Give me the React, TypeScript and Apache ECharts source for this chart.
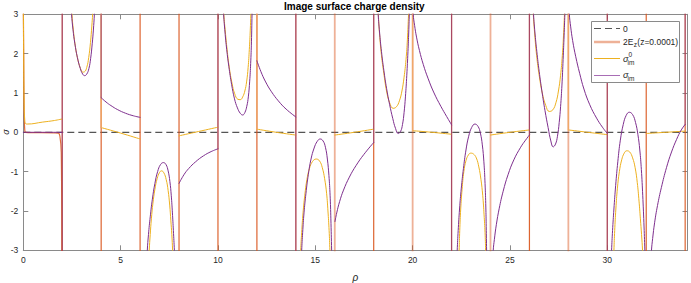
import React, { useEffect, useRef } from "react";
import * as echarts from "echarts";

type Pt = [number, number];
type VLine = [number, number, number];

const FONT = "'Liberation Sans', Arial, Helvetica, sans-serif";
const TITLE = "Image surface charge density";
const X_LABEL = "ρ";
const Y_LABEL = "σ";
const X_MIN = 0;
const X_MAX = 34.12;
const Y_MIN = -3;
const Y_MAX = 3;
const X_TICK_STEP = 5;
const Y_TICK_STEP = 1;

const C_EZ = "#D95319";
const C_S0 = "#EDB120";
const C_S = "#7E2F8E";

// dashed reference "0"
const zeroLine: Pt[] = [[0, 0], [X_MAX, 0]];

// 2E_z (z=0.0001)
const ezPieces: Pt[][] = [
  [[0.0, 3.3], [0.02, 2.0], [0.04, 0.6], [0.07, 0.1], [0.12, 0.0], [1.8, -0.02], [1.88, -0.1], [1.95, -0.5], [1.98, -3.3]],
];
const ezVerticals: number[] = [2, 4, 6, 8, 10, 12, 14, 16, 18, 20, 22, 24, 26, 28, 30, 32, 34];
const ezPaleVerticals: number[] = [16, 20, 24, 28];

// sigma^0_im
const sigma0Pieces: Pt[][] = [
  [[0.0, 3.3], [0.02, 2.0], [0.04, 0.8], [0.07, 0.35], [0.12, 0.22], [0.2, 0.21], [1.0, 0.26], [1.6, 0.3], [2.0, 0.34]],
  [[2.48, 3.3], [2.5, 3.0], [2.57, 2.6], [2.67, 2.2], [2.8, 1.85], [2.94, 1.62], [3.05, 1.53], [3.15, 1.54], [3.26, 1.65], [3.36, 1.9], [3.45, 2.28], [3.52, 2.7], [3.56, 3.0], [3.58, 3.3]],
  [[4.0, 0.12], [5.0, -0.02], [6.0, -0.17]],
  [[6.45, -3.3], [6.47, -3.0], [6.52, -2.6], [6.58, -2.2], [6.66, -1.8], [6.76, -1.45], [6.88, -1.17], [7.0, -1.02], [7.1, -0.98], [7.22, -1.03], [7.34, -1.2], [7.44, -1.48], [7.52, -1.85], [7.58, -2.25], [7.63, -2.6], [7.67, -3.0], [7.69, -3.3]],
  [[8.0, -0.09], [9.0, 0.02], [10.0, 0.13]],
  [[10.28, 3.3], [10.3, 3.0], [10.38, 2.55], [10.47, 2.1], [10.58, 1.65], [10.72, 1.25], [10.86, 0.98], [11.02, 0.84], [11.15, 0.83], [11.27, 0.9], [11.38, 1.05], [11.47, 1.28], [11.55, 1.65], [11.61, 2.1], [11.66, 2.6], [11.69, 3.0], [11.71, 3.3]],
  [[12.0, 0.08], [13.0, 0.0], [14.0, -0.07]],
  [[14.23, -3.3], [14.25, -3.0], [14.3, -2.55], [14.37, -2.05], [14.46, -1.6], [14.57, -1.2], [14.7, -0.92], [14.86, -0.74], [15.05, -0.68], [15.22, -0.73], [15.36, -0.9], [15.48, -1.18], [15.58, -1.55], [15.65, -2.0], [15.71, -2.5], [15.75, -3.0], [15.77, -3.3]],
  [[16.0, -0.07], [17.0, 0.0], [18.0, 0.08]],
  [[18.22, 3.3], [18.24, 3.0], [18.3, 2.5], [18.4, 1.95], [18.52, 1.5], [18.66, 1.05], [18.82, 0.75], [19.0, 0.61], [19.17, 0.65], [19.32, 0.8], [19.45, 1.05], [19.56, 1.4], [19.66, 1.85], [19.73, 2.35], [19.79, 3.0], [19.81, 3.3]],
  [[20.0, 0.04], [21.0, 0.0], [22.0, -0.05]],
  [[22.37, -3.3], [22.39, -3.0], [22.42, -2.5], [22.47, -1.95], [22.54, -1.45], [22.63, -1.0], [22.74, -0.72], [22.86, -0.58], [22.98, -0.53], [23.12, -0.55], [23.27, -0.65], [23.4, -0.88], [23.51, -1.2], [23.6, -1.6], [23.67, -2.1], [23.72, -2.55], [23.75, -3.0], [23.77, -3.3]],
  [[24.0, -0.07], [25.0, 0.0], [26.0, 0.06]],
  [[26.18, 3.3], [26.2, 3.0], [26.27, 2.5], [26.37, 1.95], [26.5, 1.45], [26.66, 1.0], [26.84, 0.68], [27.02, 0.53], [27.2, 0.57], [27.36, 0.75], [27.49, 1.05], [27.6, 1.45], [27.69, 1.95], [27.75, 2.45], [27.8, 3.0], [27.82, 3.3]],
  [[28.0, 0.06], [29.0, 0.0], [30.0, -0.06]],
  [[30.32, -3.3], [30.34, -3.0], [30.38, -2.5], [30.44, -1.95], [30.52, -1.42], [30.62, -1.0], [30.74, -0.7], [30.87, -0.53], [31.0, -0.47], [31.15, -0.5], [31.3, -0.65], [31.43, -0.9], [31.54, -1.28], [31.63, -1.75], [31.7, -2.2], [31.76, -2.6], [31.81, -3.0], [31.83, -3.3]],
  [[32.0, -0.03], [33.0, 0.0], [34.0, 0.03]],
];
const sigma0Verticals: VLine[] = [[4, 0.12, 3.3], [12, 0.08, 3.3], [20, 0.04, 3.3], [28, 0.06, 3.3]];

// sigma_im
const sigmaPieces: Pt[][] = [
  [[0.0, 0.0], [2.0, 0.0]],
  [[2.46, 3.3], [2.48, 3.0], [2.55, 2.62], [2.65, 2.25], [2.78, 1.9], [2.93, 1.62], [3.05, 1.48], [3.15, 1.44], [3.26, 1.48], [3.37, 1.62], [3.46, 1.88], [3.54, 2.25], [3.6, 2.6], [3.65, 3.0], [3.67, 3.3]],
  [[4.0, 0.88], [4.25, 0.77], [4.5, 0.68], [4.85, 0.575], [5.25, 0.485], [5.65, 0.42], [6.0, 0.38]],
  [[6.35, -3.3], [6.37, -3.0], [6.43, -2.6], [6.52, -2.15], [6.63, -1.7], [6.76, -1.3], [6.9, -1.0], [7.05, -0.82], [7.2, -0.77], [7.33, -0.82], [7.44, -0.98], [7.53, -1.25], [7.6, -1.6], [7.66, -2.05], [7.71, -2.5], [7.76, -3.0], [7.78, -3.3]],
  [[8.0, -1.3], [8.25, -1.08], [8.5, -0.92], [8.85, -0.75], [9.25, -0.6], [9.65, -0.49], [10.0, -0.42]],
  [[10.27, 3.3], [10.29, 3.0], [10.36, 2.55], [10.45, 2.1], [10.56, 1.67], [10.7, 1.22], [10.85, 0.85], [11.0, 0.62], [11.15, 0.48], [11.27, 0.44], [11.38, 0.5], [11.48, 0.66], [11.56, 0.9], [11.63, 1.3], [11.68, 1.75], [11.72, 2.3], [11.75, 3.0], [11.77, 3.3]],
  [[12.0, 1.82], [12.2, 1.55], [12.45, 1.28], [12.75, 1.03], [13.1, 0.8], [13.5, 0.59], [14.0, 0.39]],
  [[14.28, -3.3], [14.3, -3.0], [14.35, -2.55], [14.42, -2.05], [14.52, -1.55], [14.64, -1.08], [14.78, -0.68], [14.94, -0.4], [15.1, -0.23], [15.25, -0.17], [15.4, -0.22], [15.52, -0.38], [15.62, -0.68], [15.7, -1.1], [15.76, -1.6], [15.8, -2.2], [15.84, -3.0], [15.86, -3.3]],
  [[16.01, -2.27], [16.1, -2.05], [16.25, -1.76], [16.45, -1.47], [16.75, -1.14], [17.1, -0.84], [17.5, -0.56], [18.0, -0.26]],
  [[18.21, 3.3], [18.23, 3.0], [18.3, 2.55], [18.4, 2.05], [18.52, 1.58], [18.66, 1.12], [18.82, 0.7], [18.98, 0.35], [19.12, 0.1], [19.26, -0.03], [19.38, 0.02], [19.48, 0.2], [19.56, 0.5], [19.63, 0.9], [19.7, 1.45], [19.76, 2.05], [19.8, 2.55], [19.83, 3.0], [19.85, 3.3]],
  [[20.01, 3.3], [20.03, 3.0], [20.1, 2.72], [20.2, 2.42], [20.35, 2.08], [20.55, 1.72], [20.8, 1.36], [21.1, 1.0], [21.45, 0.66], [21.75, 0.4], [22.0, 0.19]],
  [[22.27, -3.3], [22.29, -3.0], [22.34, -2.5], [22.41, -1.95], [22.5, -1.42], [22.61, -0.92], [22.74, -0.45], [22.88, -0.1], [23.03, 0.12], [23.2, 0.21], [23.36, 0.15], [23.48, -0.02], [23.58, -0.32], [23.66, -0.75], [23.72, -1.3], [23.76, -1.9], [23.78, -2.4], [23.8, -3.0], [23.81, -3.3]],
  [[24.12, -3.3], [24.14, -3.0], [24.2, -2.72], [24.3, -2.35], [24.45, -1.93], [24.65, -1.5], [24.9, -1.08], [25.2, -0.7], [25.55, -0.38], [25.8, -0.2], [26.0, -0.07]],
  [[26.19, 3.3], [26.21, 3.0], [26.28, 2.55], [26.38, 2.05], [26.5, 1.55], [26.64, 1.05], [26.8, 0.55], [26.96, 0.12], [27.1, -0.22], [27.22, -0.37], [27.34, -0.3], [27.44, -0.1], [27.53, 0.25], [27.6, 0.65], [27.67, 1.2], [27.73, 1.85], [27.78, 2.45], [27.82, 3.0], [27.84, 3.3]],
  [[28.03, 3.3], [28.05, 3.0], [28.12, 2.68], [28.22, 2.33], [28.38, 1.92], [28.58, 1.5], [28.8, 1.1], [29.1, 0.7], [29.45, 0.36], [29.75, 0.13], [30.0, -0.03]],
  [[30.2, -3.3], [30.22, -3.0], [30.27, -2.5], [30.34, -1.95], [30.43, -1.35], [30.54, -0.75], [30.67, -0.2], [30.82, 0.2], [30.97, 0.43], [31.13, 0.51], [31.3, 0.45], [31.45, 0.25], [31.57, -0.05], [31.67, -0.45], [31.75, -0.95], [31.82, -1.6], [31.88, -2.3], [31.93, -3.0], [31.95, -3.3]],
  [[32.25, -3.3], [32.27, -3.0], [32.33, -2.7], [32.43, -2.3], [32.58, -1.86], [32.78, -1.4], [33.04, -0.9], [33.3, -0.5], [33.56, -0.18], [33.8, 0.06], [34.0, 0.2]],
];
const sigmaVerticals: VLine[] = [
  [2, -3.3, 3.3], [4, 0.88, 3.3], [10, -0.42, 3.3], [14, -3.3, 3.3], [18, -0.26, 3.3],
  [22, -3.3, 3.3], [26, -0.07, 3.3], [30, -3.3, 3.3], [34, 0.2, 3.3],
];

const EZ_NAME = "2E_z(z=0.0001)";
const S0_NAME = "σ0_im";
const S_NAME = "σ_im";

function lineSeries(name: string, data: Pt[], color: string, width: number, smooth: boolean | number, opacity = 1) {
  return {
    type: "line",
    name,
    data,
    symbol: "none",
    showSymbol: false,
    smooth,
    clip: true,
    silent: true,
    animation: false,
    lineStyle: { color, width, opacity, cap: "round", join: "round" },
    itemStyle: { color },
    emphasis: { disabled: true },
  };
}

export default function App() {
  const ref = useRef<HTMLDivElement>(null);
  useEffect(() => {
    if (!ref.current) return;
    const chart = echarts.init(ref.current, undefined, { renderer: "svg" });
    const series: any[] = [];
    series.push({
      ...lineSeries("0", zeroLine, "#555555", 1.2, false),
      lineStyle: { color: "#555555", width: 1.2, type: [7, 4] },
    });
    ezPieces.forEach((p) => series.push(lineSeries(EZ_NAME, p, C_EZ, 1.2, 0.35, 0.85)));
    ezVerticals.forEach((x) => {
      const pale = ezPaleVerticals.includes(x);
      series.push(lineSeries(EZ_NAME, [[x, Y_MIN - 0.3], [x, Y_MAX + 0.3]], C_EZ, pale ? 1.8 : 1.2, false, pale ? 0.45 : 0.9));
    });
    sigma0Pieces.forEach((p) => series.push(lineSeries(S0_NAME, p, C_S0, 1, 0.45)));
    sigma0Verticals.forEach((v) => series.push(lineSeries(S0_NAME, [[v[0], v[1]], [v[0], v[2]]], "#F0A868", 1.3, false)));
    sigmaVerticals.forEach((v) => series.push(lineSeries(S_NAME, [[v[0], v[1]], [v[0], v[2]]], C_S, 1.2, false, 0.55)));
    sigmaPieces.forEach((p) => series.push(lineSeries(S_NAME, p, C_S, 1, 0.45)));

    const axisCommon = {
      axisLine: { show: true, onZero: false, lineStyle: { color: "#8a8a8a", width: 1 } },
      axisTick: { show: true, inside: true, length: 5, lineStyle: { color: "#8a8a8a", width: 1 } },
      splitLine: { show: false },
    };
    const labelStyle = { fontSize: 8.5, color: "#262626", fontFamily: FONT };

    const LX = 591.5, LY = 21.5, LW = 88, LH = 61;
    const lx1 = 594, lx2 = 620, tx = 623;
    const graphic: any[] = [
      { type: "text", z: 50, x: 6, y: 132, rotation: Math.PI / 2, style: { text: Y_LABEL, fontSize: 9, fontStyle: "italic", fontFamily: FONT, fill: "#262626", align: "center", verticalAlign: "middle" } },
      { type: "rect", z: 100, shape: { x: LX, y: LY, width: LW, height: LH }, style: { fill: "#ffffff", stroke: "#8a8a8a", lineWidth: 1 } },
      { type: "line", z: 101, shape: { x1: lx1, y1: 28.5, x2: lx2, y2: 28.5 }, style: { stroke: "#555555", lineWidth: 1.2, lineDash: [7, 4] } },
      { type: "text", z: 101, x: tx, y: 28.5, style: { text: "0", fontSize: 8.5, fontFamily: FONT, fill: "#262626", verticalAlign: "middle" } },
      { type: "line", z: 101, shape: { x1: lx1, y1: 42, x2: lx2, y2: 42 }, style: { stroke: "rgba(217,83,25,0.45)", lineWidth: 2.5 } },
      { type: "text", z: 101, x: tx, y: 42, style: { text: "2E", fontSize: 8.5, fontFamily: FONT, fill: "#262626", verticalAlign: "middle" } },
      { type: "text", z: 101, x: 633.8, y: 44.5, style: { text: "z", fontSize: 6.5, fontFamily: FONT, fill: "#262626", verticalAlign: "middle" } },
      { type: "text", z: 101, x: 637.3, y: 42, style: { text: "(z=0.0001)", fontSize: 8.5, fontFamily: FONT, fill: "#262626", verticalAlign: "middle" } },
      { type: "line", z: 101, shape: { x1: lx1, y1: 58.5, x2: lx2, y2: 58.5 }, style: { stroke: C_S0, lineWidth: 1 } },
      { type: "text", z: 101, x: tx, y: 59, style: { text: "σ", fontSize: 9, fontStyle: "italic", fontFamily: FONT, fill: "#262626", verticalAlign: "middle" } },
      { type: "text", z: 101, x: 628.5, y: 54, style: { text: "0", fontSize: 6.5, fontFamily: FONT, fill: "#262626", verticalAlign: "middle" } },
      { type: "text", z: 101, x: 627.5, y: 62, style: { text: "im", fontSize: 6.5, fontFamily: FONT, fill: "#262626", verticalAlign: "middle" } },
      { type: "line", z: 101, shape: { x1: lx1, y1: 75.5, x2: lx2, y2: 75.5 }, style: { stroke: "#A86DB5", lineWidth: 1 } },
      { type: "text", z: 101, x: tx, y: 75, style: { text: "σ", fontSize: 9, fontStyle: "italic", fontFamily: FONT, fill: "#262626", verticalAlign: "middle" } },
      { type: "text", z: 101, x: 627.5, y: 78.5, style: { text: "im", fontSize: 6.5, fontFamily: FONT, fill: "#262626", verticalAlign: "middle" } },
    ];

    chart.setOption({
      animation: false,
      backgroundColor: "#ffffff",
      title: {
        text: TITLE,
        left: 284,
        top: 0,
        padding: [1, 0, 0, 0],
        textStyle: { fontSize: 10, fontWeight: "bold", color: "#000", fontFamily: FONT },
      },
      grid: { left: 23.3, right: 3.5, top: 14.3, bottom: 32.7, containLabel: false, outerBoundsMode: "none" },
      xAxis: [
        {
          type: "value", min: X_MIN, max: X_MAX, interval: X_TICK_STEP, position: "bottom", ...axisCommon,
          axisLabel: { ...labelStyle, margin: 5, showMaxLabel: false },
          name: X_LABEL, nameLocation: "middle", nameGap: 22,
          nameTextStyle: { fontSize: 10, fontStyle: "italic", color: "#262626", fontFamily: FONT },
        },
        {
          type: "value", min: X_MIN, max: X_MAX, interval: X_TICK_STEP, position: "top", ...axisCommon,
          axisLabel: { show: false },
        },
      ],
      yAxis: [
        {
          type: "value", min: Y_MIN, max: Y_MAX, interval: Y_TICK_STEP, position: "left", ...axisCommon,
          axisLabel: { ...labelStyle, margin: 5 },
        },
        {
          type: "value", min: Y_MIN, max: Y_MAX, interval: Y_TICK_STEP, position: "right", ...axisCommon,
          axisLabel: { show: false },
        },
      ],
      series,
      graphic,
    });
    return () => chart.dispose();
  }, []);
  return <div ref={ref} style={{ position: "absolute", left: 0, top: 0, width: 691, height: 283 }} />;
}
